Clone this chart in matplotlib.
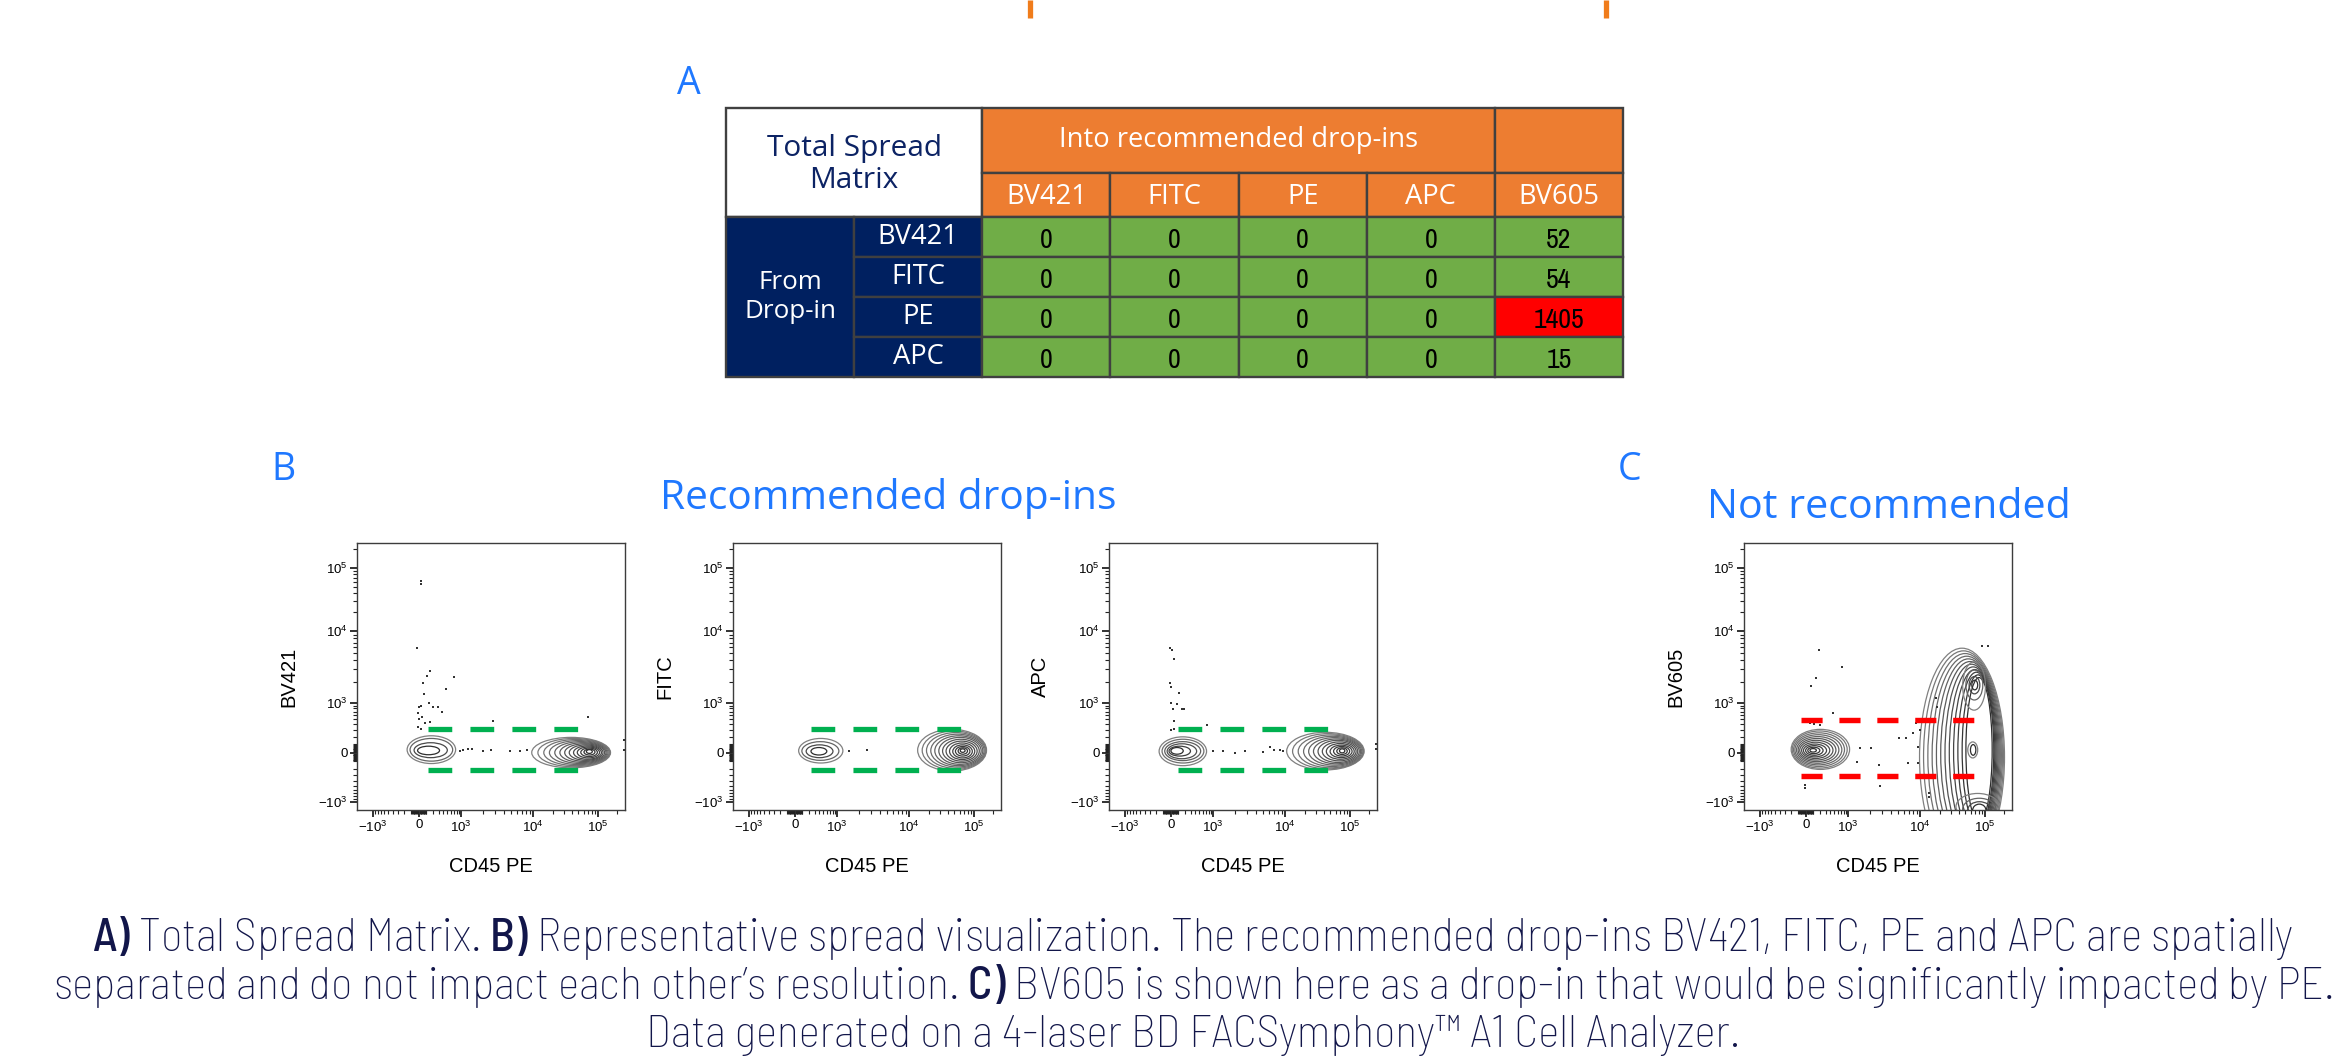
import numpy as np
import matplotlib
matplotlib.use("Agg")
import matplotlib.pyplot as plt
from matplotlib.patches import Ellipse, Rectangle

W, H = 2350, 1059

# ---- panel A: total spread matrix ----
SOURCES = ["BV421", "FITC", "PE", "APC"]
TARGETS = ["BV421", "FITC", "PE", "APC", "BV605"]
SPREAD = [
    [0, 0, 0, 0, 52],
    [0, 0, 0, 0, 54],
    [0, 0, 0, 0, 1405],
    [0, 0, 0, 0, 15],
]
RED_ABOVE = 1000

# ---- axis ticks (fluorescence values) ----
MAJOR_VALUES = [-1e3, 0, 1e3, 1e4, 1e5]
MAJOR_LABELS = [r"$\mathregular{-10^{3}}$", "0", r"$\mathregular{10^{3}}$",
                r"$\mathregular{10^{4}}$", r"$\mathregular{10^{5}}$"]
ANCHOR_VALUES = [-1e3, 0, 1e3, 1e4, 1e5, 1e6]
X_ANCHOR_CH = [60, 232, 389, 658, 899, 1140]
Y_ANCHOR_CH = [31, 214, 401, 669, 906, 1143]

# ---- panels B/C: contour levels in display channels (0-1000) ----
# each row: x-left, x-right, y-bottom, y-top of one contour level
BV421_NEG = [[187, 368, 174, 278], [198, 357, 183, 268], [213, 337, 196, 252], [226, 308, 207, 239]]
BV421_POS = [[652, 946, 158, 272], [675, 944, 162, 268], [697, 941, 166, 264], [718, 937, 170, 260],
             [738, 933, 174, 256], [757, 929, 178, 252], [775, 924, 182, 248], [792, 918, 186, 244],
             [808, 912, 190, 240], [822, 905, 195, 236], [835, 897, 200, 232], [847, 888, 206, 228],
             [856, 878, 212, 226]]
FITC_NEG = [[245, 410, 176, 268], [257, 395, 186, 256], [273, 373, 196, 244], [291, 350, 206, 234]]
FITC_POS = [[689, 946, 146, 302], [706, 944, 151, 296], [722, 941, 156, 290], [738, 937, 161, 284],
            [753, 932, 166, 278], [768, 926, 171, 272], [782, 919, 177, 265], [795, 911, 183, 258],
            [808, 902, 189, 251], [820, 893, 195, 244], [830, 884, 202, 238], [840, 875, 209, 233],
            [848, 866, 216, 229]]
APC_NEG = [[187, 364, 166, 274], [198, 354, 176, 265], [208, 342, 185, 256], [217, 327, 192, 248],
           [224, 304, 202, 239], [231, 277, 209, 234]]
APC_POS = [[663, 952, 150, 291], [685, 950, 154, 286], [706, 947, 158, 281], [726, 943, 163, 276],
           [745, 939, 168, 271], [763, 934, 173, 266], [780, 928, 178, 261], [796, 922, 184, 255],
           [811, 915, 190, 249], [825, 907, 196, 243], [838, 898, 202, 238], [850, 889, 208, 233],
           [860, 880, 214, 229]]
BV605_NEG = [[176, 394, 152, 302], [180, 385, 157, 296], [185, 375, 163, 289], [190, 365, 169, 282],
             [196, 354, 175, 275], [202, 343, 181, 268], [208, 332, 187, 261], [215, 320, 193, 254],
             [222, 308, 199, 247], [230, 295, 205, 241], [238, 283, 211, 235], [246, 270, 217, 230]]
BV605_POS = [[655, 972, -210, 606], [670, 968, -195, 596], [686, 964, -180, 586], [702, 960, -165, 576],
             [718, 956, -150, 566], [734, 952, -135, 556], [750, 948, -120, 546], [766, 944, -105, 536],
             [782, 940, -90, 526], [798, 936, -75, 516], [814, 932, -60, 506], [828, 926, -45, 496]]
BV605_HIGH = [[816, 901, 374, 555], [828, 891, 412, 524], [840, 880, 435, 500], [850, 872, 450, 486]]
BV605_MID = [[835, 872, 195, 255], [845, 865, 205, 245]]
BV605_LOW = [[791, 953, -37, 62], [816, 940, -37, 44], [835, 922, -31, 31], [853, 903, -25, 22]]

# gates: x0, x1, y0, y1
BV421_GATE = [265, 823, 150, 303]
FITC_GATE = [292, 850, 150, 303]
APC_GATE = [259, 819, 150, 303]
BV605_GATE = [214, 882, 128, 337]

# single events outside the contours
BV421_DX = [238, 238, 224, 272, 261, 361, 246, 332, 251, 268, 238, 230, 282, 301, 226, 317, 242, 230,
            255, 273, 226, 238, 383, 395, 414, 428, 469, 499, 571, 609, 636, 507, 861, 996, 996]
BV421_DY = [858, 848, 608, 520, 503, 498, 474, 454, 434, 399, 390, 384, 387, 385, 365, 368, 349, 339,
            327, 330, 312, 302, 221, 224, 228, 229, 221, 224, 221, 222, 224, 334, 348, 261, 224]
FITC_DX = [432, 499]
FITC_DY = [221, 224]
APC_DX = [227, 234, 242, 227, 231, 262, 233, 252, 239, 271, 281, 242, 232, 242, 364, 387, 426, 470,
          508, 576, 601, 614, 638, 651, 998, 998]
APC_DY = [605, 599, 567, 474, 461, 440, 399, 397, 380, 378, 378, 334, 299, 303, 320, 221, 221, 214,
          222, 216, 237, 224, 224, 222, 246, 227]
BV605_DX = [279, 365, 270, 251, 332, 245, 263, 282, 642, 655, 630, 580, 605, 717, 719, 431, 474, 421,
            505, 611, 648, 226, 226, 508, 692, 692, 888, 909, 648]
BV605_DY = [601, 536, 493, 465, 364, 324, 322, 320, 324, 299, 287, 268, 271, 421, 387, 231, 231, 178,
            168, 175, 175, 94, 81, 91, 62, 50, 614, 616, 237]

CAPTION = [
    r"$\mathbf{A)}$ Total Spread Matrix. $\mathbf{B)}$ Representative spread visualization. "
    r"The recommended drop-ins BV421, FITC, PE and APC are spatially",
    r"separated and do not impact each other’s resolution. $\mathbf{C)}$ BV605 is shown here as a "
    r"drop-in that would be significantly impacted by PE.",
    "Data generated on a 4-laser BD FACSymphony™ A1 Cell Analyzer.",
]
CAPTION_WIDTHS = [2202, 2280, None]

# ---- styling ----
CAP_FONT = "Barlow Semi Condensed"
HUMAN = "Open Sans"
NUM_FONT = "Archivo Narrow"
BLUE = "#1f78ff"
NAVY = "#002060"
TEXT_NAVY = "#12164a"
ORANGE = "#ed7d31"
GREEN = "#70ad47"
GRID = "#404040"

plt.rcParams["font.family"] = ["Liberation Sans", "DejaVu Sans"]
plt.rcParams["mathtext.fontset"] = "custom"
plt.rcParams["mathtext.rm"] = CAP_FONT + ":light"
plt.rcParams["mathtext.bf"] = CAP_FONT + ":medium"


def px_rect(l, t, r, b):
    return [l / W, 1 - b / H, (r - l) / W, (b - t) / H]


def to_channel(values, anchors):
    u = np.arcsinh(np.asarray(values, dtype=float) / 300)
    ua = np.arcsinh(np.asarray(ANCHOR_VALUES) / 300)
    return np.interp(u, ua, anchors)


def fit_width(txt, width):
    r = fig.canvas.get_renderer()
    w = txt.get_window_extent(r).width
    txt.set_fontsize(txt.get_fontsize() * width / w)
    return txt.get_fontsize()


def draw_levels(ax, rows):
    n = len(rows)
    for i, (x0, x1, y0, y1) in enumerate(rows):
        g = 0.5 - 0.32 * i / max(n - 1, 1)
        ax.add_patch(Ellipse(((x0 + x1) / 2, (y0 + y1) / 2), x1 - x0, y1 - y0,
                             fill=False, lw=0.9, ec=(g, g, g), zorder=2))


fig = plt.figure(figsize=(W / 100, H / 100), dpi=100)

# overlay in pixel coordinates for free text
ov = fig.add_axes([0, 0, 1, 1])
ov.set_xlim(0, W)
ov.set_ylim(H, 0)
ov.axis("off")

# remnants of the bracket above (cropped)
for x in (1030, 1606):
    ov.plot([x, x], [0, 18], color="#f07c1b", lw=3.8, solid_capstyle="butt")

ov.text(677, 94, "A", color=BLUE, fontsize=27, family=HUMAN, va="baseline")
ov.text(271, 480, "B", color=BLUE, fontsize=27, family=HUMAN, va="baseline")
ov.text(1618, 480, "C", color=BLUE, fontsize=27, family=HUMAN, va="baseline")

t = ov.text(888, 509, "Recommended drop-ins", color=BLUE, fontsize=30, family=HUMAN,
            ha="center", va="baseline")
fit_width(t, 456)
t = ov.text(1889, 518, "Not recommended", color=BLUE, fontsize=30, family=HUMAN,
            ha="center", va="baseline")
fit_width(t, 365)

size = None
for line, y, wpx in zip(CAPTION, (951, 999, 1047), CAPTION_WIDTHS):
    c = ov.text(1193, y, line, color=TEXT_NAVY, fontsize=size or 28, family=CAP_FONT,
                weight="light", ha="center", va="baseline")
    if wpx:
        size = fit_width(c, wpx)

# ---- table ----
ROW_EDGES = [0, 65, 109, 149, 189, 229, 269]
tab = fig.add_axes(px_rect(726, 108, 1623, 377))
tab.set_xlim(0, 7)
tab.set_ylim(269, 0)
tab.axis("off")


def cell(x, y0, w, y1, fc):
    tab.add_patch(Rectangle((x, y0), w, y1 - y0, fc=fc, ec=GRID, lw=1.7, clip_on=False))


cell(0, 0, 2, ROW_EDGES[2], "white")
cell(2, 0, 4, ROW_EDGES[1], ORANGE)
cell(6, 0, 1, ROW_EDGES[1], ORANGE)
cell(0, ROW_EDGES[2], 1, ROW_EDGES[-1], NAVY)
tab.text(1, ROW_EDGES[2] / 2 + 2, "Total Spread\nMatrix", color="#0c2364", fontsize=21.5,
         family=HUMAN, weight="medium", ha="center", va="center", linespacing=1.15)
hdr = tab.text(4, ROW_EDGES[1] / 2, "Into recommended drop-ins", color="white",
               fontsize=19, family=HUMAN, ha="center", va="center")
hsize = fit_width(hdr, 360)
tab.text(0.5, (ROW_EDGES[2] + ROW_EDGES[-1]) / 2, "From\nDrop-in", color="white",
         fontsize=hsize * 0.95, family=HUMAN, ha="center", va="center", linespacing=1.25)
for j, name in enumerate(TARGETS):
    cell(2 + j, ROW_EDGES[1], 1, ROW_EDGES[2], ORANGE)
    tab.text(2.5 + j, (ROW_EDGES[1] + ROW_EDGES[2]) / 2 + 2, name, color="white",
             fontsize=hsize, family=HUMAN, ha="center", va="center")
for i, src in enumerate(SOURCES):
    y0, y1 = ROW_EDGES[2 + i], ROW_EDGES[3 + i]
    cell(1, y0, 1, y1, NAVY)
    tab.text(1.5, (y0 + y1) / 2, src, color="white", fontsize=hsize, family=HUMAN,
             ha="center", va="center")
    for j, val in enumerate(SPREAD[i]):
        cell(2 + j, y0, 1, y1, "#ff0000" if val > RED_ABOVE else GREEN)
        tab.text(2.5 + j, (y0 + y1) / 2 + 3, str(val), color="black", fontsize=20,
                 family=NUM_FONT, ha="center", va="center")

# ---- flow plots ----
PANELS = [
    ("BV421", 357, [BV421_NEG, BV421_POS], BV421_GATE, "#00b050", BV421_DX, BV421_DY),
    ("FITC", 733, [FITC_NEG, FITC_POS], FITC_GATE, "#00b050", FITC_DX, FITC_DY),
    ("APC", 1109, [APC_NEG, APC_POS], APC_GATE, "#00b050", APC_DX, APC_DY),
    ("BV605", 1744, [BV605_NEG, BV605_POS, BV605_HIGH, BV605_MID, BV605_LOW], BV605_GATE,
     "#ff0000", BV605_DX, BV605_DY),
]

minor_vals = np.concatenate([np.arange(-900, 0, 100), np.arange(-90, 100, 10),
                             np.arange(100, 1000, 100), np.arange(2e3, 1e4, 1e3),
                             np.arange(2e4, 1e5, 1e4), [2e5]])

for ylab, left, pops, gate, gcol, dx, dy in PANELS:
    ax = fig.add_axes(px_rect(left, 543, left + 268, 810))
    ax.set_xlim(0, 1000)
    ax.set_ylim(0, 1000)
    xm = to_channel(minor_vals, X_ANCHOR_CH)
    ym = to_channel(minor_vals, Y_ANCHOR_CH)
    ax.set_xticks(to_channel(MAJOR_VALUES, X_ANCHOR_CH), MAJOR_LABELS)
    ax.set_yticks(to_channel(MAJOR_VALUES, Y_ANCHOR_CH), MAJOR_LABELS)
    ax.set_xticks(xm[(xm > 0) & (xm < 1000)], minor=True)
    ax.set_yticks(ym[(ym > 0) & (ym < 1000)], minor=True)
    ax.tick_params(which="major", direction="out", length=4.8, width=1.3, pad=2,
                   labelsize=9.5, color="#222222")
    ax.tick_params(which="minor", direction="out", length=2.6, width=0.8, color="#222222")
    for sp in ax.spines.values():
        sp.set_linewidth(1.0)
        sp.set_color("#3c3c3c")

    for rows in pops:
        draw_levels(ax, rows)
    ax.scatter(dx, dy, s=1.6, marker="s", color="#333333", linewidths=0, zorder=2)

    x0, x1, y0, y1 = gate
    lw = 3.9 if gcol == "#ff0000" else 3.8
    dash = (3.9, 3.1) if gcol == "#ff0000" else (4.5, 3.45)
    for y in (y0, y1):
        ax.plot([x0, x1], [y, y], color=gcol, lw=lw, dashes=dash, zorder=3)

    ax.set_xlabel("CD45 PE", fontsize=14.5)
    ax.set_ylabel(ylab, fontsize=14.5)
    ax.xaxis.set_label_coords(0.5, -0.175)
    ax.yaxis.set_label_coords(-0.22, 0.5)

fig.savefig("out.png", dpi=100)
